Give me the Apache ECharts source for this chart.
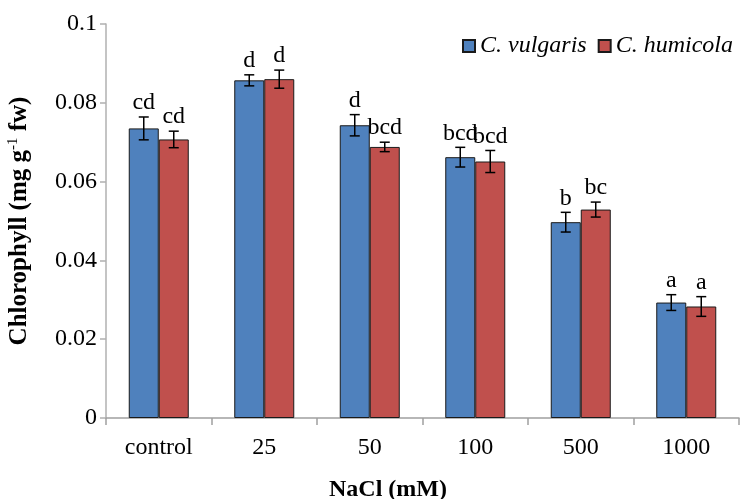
<!DOCTYPE html>
<html>
<head>
<meta charset="utf-8">
<script src="https://cdn.jsdelivr.net/npm/echarts@6/dist/echarts.min.js"></script>
<style>html,body{margin:0;padding:0;background:#fff;}#c{width:746px;height:499px;}</style>
</head>
<body>
<div id="c"></div>
<script>
const categories = ['control', '25', '50', '100', '500', '1000'];
const vulgaris = [0.0735, 0.0857, 0.0743, 0.0662, 0.0497, 0.0293];
const humicola = [0.0707, 0.0860, 0.0688, 0.0651, 0.0529, 0.0283];
const vulgarisErr = [0.0029, 0.0014, 0.0027, 0.0025, 0.0025, 0.0020];
const humicolaErr = [0.0021, 0.0023, 0.0012, 0.0028, 0.0019, 0.0025];
const vulgarisLetters = ['cd', 'd', 'd', 'bcd', 'b', 'a'];
const humicolaLetters = ['cd', 'd', 'bcd', 'bcd', 'bc', 'a'];
const yTicks = [0, 0.02, 0.04, 0.06, 0.08, 0.1];

const FONT = '"Liberation Serif", "Times New Roman", serif';
const BAR_W = 30;

function errSeries(name, vals, errs, letters, offset) {
  return {
    name: name,
    type: 'custom',
    z: 5,
    silent: true,
    data: vals.map((v, i) => [i, v, errs[i]]),
    encode: { x: 0, y: 1 },
    renderItem: function (params, api) {
      const i = api.value(0), v = api.value(1), e = api.value(2);
      const top = api.coord([i, v + e]);
      const bot = api.coord([i, v - e]);
      const x = top[0] + offset;
      const cap = 5;
      const st = { stroke: '#000', lineWidth: 1.5 };
      return {
        type: 'group',
        children: [
          { type: 'line', shape: { x1: x, y1: top[1], x2: x, y2: bot[1] }, style: st },
          { type: 'line', shape: { x1: x - cap, y1: top[1], x2: x + cap, y2: top[1] }, style: st },
          { type: 'line', shape: { x1: x - cap, y1: bot[1], x2: x + cap, y2: bot[1] }, style: st },
          { type: 'text', style: { text: letters[params.dataIndex], x: x, y: top[1] - 2,
              textAlign: 'center', textVerticalAlign: 'bottom',
              font: '24px ' + FONT, fill: '#000' } }
        ]
      };
    }
  };
}

const chart = echarts.init(document.getElementById('c'));
chart.setOption({
  animation: false,
  backgroundColor: '#fff',
  grid: { left: 106, right: 7, top: 24, bottom: 81, containLabel: false, outerBoundsMode: 'none' },
  legend: {
    data: ['C. vulgaris', 'C. humicola'],
    left: 462, top: 34, width: 284, orient: 'horizontal', padding: 0,
    icon: 'rect', itemWidth: 12, itemHeight: 12, itemGap: 11,
    textStyle: { fontFamily: FONT, fontStyle: 'italic', fontSize: 24, color: '#000' }
  },
  xAxis: {
    type: 'category',
    data: categories,
    axisLine: { lineStyle: { color: '#a0a0a0', width: 1.5 } },
    axisTick: { show: true, length: 7, lineStyle: { color: '#a0a0a0', width: 1.5 } },
    axisLabel: { margin: 18, fontFamily: FONT, fontSize: 24, color: '#000' }
  },
  yAxis: {
    type: 'value',
    min: 0, max: 0.1, interval: 0.02,
    splitLine: { show: false },
    axisLine: { show: true, lineStyle: { color: '#b0b0b0', width: 1.5 } },
    axisTick: { show: true, length: 6, lineStyle: { color: '#b0b0b0', width: 1.5 } },
    axisLabel: { margin: 9, fontFamily: FONT, fontSize: 24, color: '#000',
      formatter: function (v) { const t = yTicks.find(a => Math.abs(a - v) < 1e-9); return String(t !== undefined ? t : v); } },
    name: 'Chlorophyll (mg g{sup|-1} fw)',
    nameLocation: 'middle',
    nameRotate: 90,
    nameGap: 73,
    nameTextStyle: { fontFamily: FONT, fontWeight: 'bold', fontSize: 25, color: '#000',
      rich: { sup: { fontFamily: FONT, fontWeight: 'normal', fontSize: 15, verticalAlign: 'top', padding: [0, 0, 12, 0] } } }
  },
  graphic: [{
    type: 'text', left: 329, top: 478,
    style: { text: 'NaCl (mM)', font: 'bold 24px ' + FONT, fill: '#000' }
  }],
  series: [
    { name: 'C. vulgaris', type: 'bar', data: vulgaris, barWidth: BAR_W, barGap: '0%',
      itemStyle: { color: '#4F81BD', borderColor: '#1a1a1a', borderWidth: 1 } },
    { name: 'C. humicola', type: 'bar', data: humicola, barWidth: BAR_W, barGap: '0%',
      itemStyle: { color: '#C0504D', borderColor: '#1a1a1a', borderWidth: 1 } },
    errSeries('errV', vulgaris, vulgarisErr, vulgarisLetters, -BAR_W / 2),
    errSeries('errH', humicola, humicolaErr, humicolaLetters, BAR_W / 2)
  ]
});
</script>
</body>
</html>
